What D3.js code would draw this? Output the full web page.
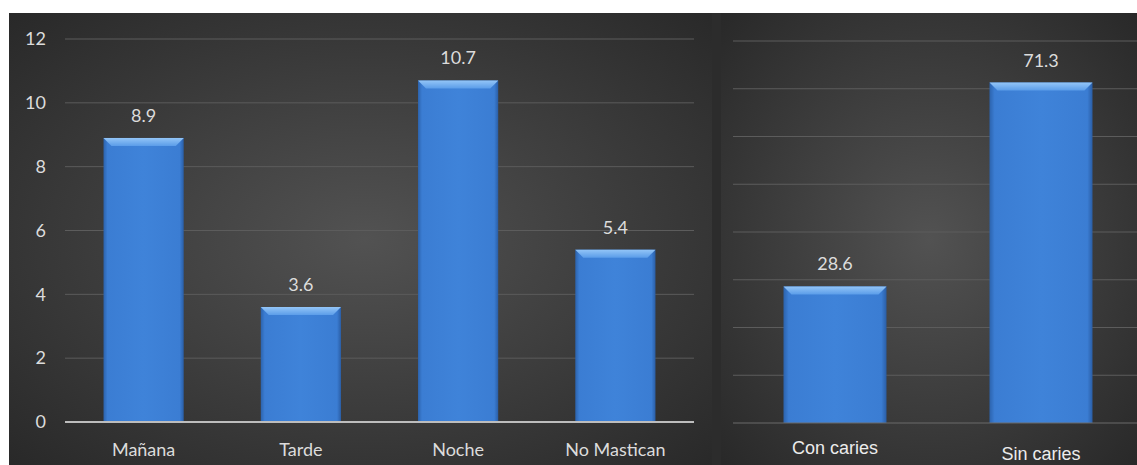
<!doctype html>
<html lang="es">
<head>
	<meta charset="UTF-8">
	<title>masticar chicle | d3</title>
	<style>
		body { margin: 0; background: #fff; }
		.lbl { fill: #dcdcdc; font-family: Lato, "Open Sans", sans-serif; font-size: 18px; }
		.lbl-arial { fill: #ececec; font-family: "Liberation Sans", Arial, sans-serif; font-size: 18px; }
	</style>
</head>
<body>
	<script src="https://cdn.jsdelivr.net/npm/d3@7"></script>
	<script>
		// left chart
		var momentos = ['Mañana', 'Tarde', 'Noche', 'No Mastican'],
			momentoVals = [8.9, 3.6, 10.7, 5.4],
			leftTicks = [0, 2, 4, 6, 8, 10, 12];

		// right chart
		var caries = ['Con caries', 'Sin caries'],
			cariesVals = [28.6, 71.3],
			rightTicks = [0, 10, 20, 30, 40, 50, 60, 70, 80];

		var w = 1137,
			h = 465;

		var svg = d3.select('body')
			.append('svg')
			.attr('width', w)
			.attr('height', h);

		var defs = svg.append('defs');

		var bg = defs.append('radialGradient')
			.attr('id', 'bg')
			.attr('cx', '50%').attr('cy', '50%').attr('r', '75%');
		bg.append('stop').attr('offset', '0%').attr('stop-color', '#525252');
		bg.append('stop').attr('offset', '100%').attr('stop-color', '#262626');

		var barGrad = defs.append('linearGradient')
			.attr('id', 'barGrad')
			.attr('x1', '0').attr('x2', '1').attr('y1', '0').attr('y2', '0');
		barGrad.append('stop').attr('offset', '0%').attr('stop-color', '#2c63ad');
		barGrad.append('stop').attr('offset', '5%').attr('stop-color', '#3b7dd3');
		barGrad.append('stop').attr('offset', '50%').attr('stop-color', '#3f83d9');
		barGrad.append('stop').attr('offset', '95%').attr('stop-color', '#3b7dd3');
		barGrad.append('stop').attr('offset', '100%').attr('stop-color', '#2a5ea6');

		var bevelGrad = defs.append('linearGradient')
			.attr('id', 'bevelGrad')
			.attr('x1', '0').attr('x2', '0').attr('y1', '0').attr('y2', '1');
		bevelGrad.append('stop').attr('offset', '0%').attr('stop-color', '#93c5f7');
		bevelGrad.append('stop').attr('offset', '100%').attr('stop-color', '#5b9de9');

		// panel backgrounds
		svg.append('rect')
			.attr('x', 9).attr('y', 13).attr('width', 712).attr('height', h - 13)
			.attr('fill', 'url(#bg)');
		svg.append('rect')
			.attr('x', 712).attr('y', 13).attr('width', 10).attr('height', h - 13)
			.attr('fill', '#2c2c2c');
		svg.append('rect')
			.attr('x', 721).attr('y', 13).attr('width', w - 721).attr('height', h - 13)
			.attr('fill', 'url(#bg)');

		/**
		* draw one bar chart
		*/
		var drawChart = function(opts) {
			var g = svg.append('g');

			var xScale = d3.scaleBand()
				.domain(opts.cats)
				.range(opts.xRange)
				.paddingInner(opts.pad)
				.paddingOuter(opts.pad / 2);

			var yScale = d3.scaleLinear()
				.domain([0, d3.max(opts.ticks)])
				.range(opts.yRange);

			// gridlines
			g.selectAll('line.grid')
				.data(opts.ticks.slice(1))
				.enter()
				.append('line')
				.attr('class', 'grid')
				.attr('x1', opts.gridX[0]).attr('x2', opts.gridX[1])
				.attr('y1', function(d) { return yScale(d); })
				.attr('y2', function(d) { return yScale(d); })
				.attr('stroke', '#5c5c5c')
				.attr('stroke-width', 1);

			// y axis labels
			if (opts.showY) {
				var yAxis = d3.axisLeft(yScale)
					.tickValues(opts.ticks)
					.tickSize(0)
					.tickPadding(0);
				var ya = g.append('g')
					.attr('transform', 'translate(' + opts.yLabelX + ',0)')
					.call(yAxis);
				ya.select('.domain').remove();
				ya.selectAll('text')
					.attr('class', 'lbl')
					.attr('fill', null)
					.style('font-size', '18px');
			}

			// bars
			var bars = g.selectAll('g.bar')
				.data(opts.vals)
				.enter()
				.append('g')
				.attr('class', 'bar');

			bars.append('rect')
				.attr('x', function(d, i) { return xScale(opts.cats[i]); })
				.attr('y', function(d) { return yScale(d); })
				.attr('width', xScale.bandwidth())
				.attr('height', function(d) { return yScale(0) - yScale(d); })
				.attr('fill', 'url(#barGrad)');

			var bv = 8;
			bars.append('path')
				.attr('d', function(d, i) {
					var x0 = xScale(opts.cats[i]),
						x1 = x0 + xScale.bandwidth(),
						y0 = yScale(d);
					return 'M' + x0 + ',' + y0 + 'L' + x1 + ',' + y0 +
						'L' + (x1 - bv) + ',' + (y0 + bv) + 'L' + (x0 + bv) + ',' + (y0 + bv) + 'Z';
				})
				.attr('fill', 'url(#bevelGrad)');

			// value labels
			bars.append('text')
				.attr('class', 'lbl')
				.attr('text-anchor', 'middle')
				.attr('x', function(d, i) { return xScale(opts.cats[i]) + xScale.bandwidth() / 2; })
				.attr('y', function(d) { return yScale(d) - 16; })
				.text(function(d) { return d.toFixed(1); });

			// baseline
			g.append('line')
				.attr('x1', opts.gridX[0]).attr('x2', opts.gridX[1])
				.attr('y1', yScale(0)).attr('y2', yScale(0))
				.attr('stroke', opts.baseColor)
				.attr('stroke-width', opts.baseWidth);

			// category labels
			g.selectAll('text.cat')
				.data(opts.cats)
				.enter()
				.append('text')
				.attr('class', opts.catClass)
				.attr('text-anchor', 'middle')
				.attr('x', function(d) { return xScale(d) + xScale.bandwidth() / 2; })
				.attr('y', function(d, i) { return yScale(0) + opts.catDy[i]; })
				.text(function(d) { return d; });
		};

		drawChart({
			cats: momentos,
			vals: momentoVals,
			ticks: leftTicks,
			xRange: [65, 694],
			gridX: [65, 694],
			yRange: [422, 39],
			pad: 0.49,
			showY: true,
			yLabelX: 46,
			baseColor: '#bdbdbd',
			baseWidth: 2,
			catClass: 'lbl',
			catDy: [34, 34, 34, 34]
		});

		drawChart({
			cats: caries,
			vals: cariesVals,
			ticks: rightTicks,
			xRange: [732, 1144],
			gridX: [733, 1137],
			yRange: [423, 41],
			pad: 0.5,
			showY: false,
			baseColor: '#6a6a6a',
			baseWidth: 1,
			catClass: 'lbl-arial',
			catDy: [31, 37]
		});
	</script>
</body>
</html>
